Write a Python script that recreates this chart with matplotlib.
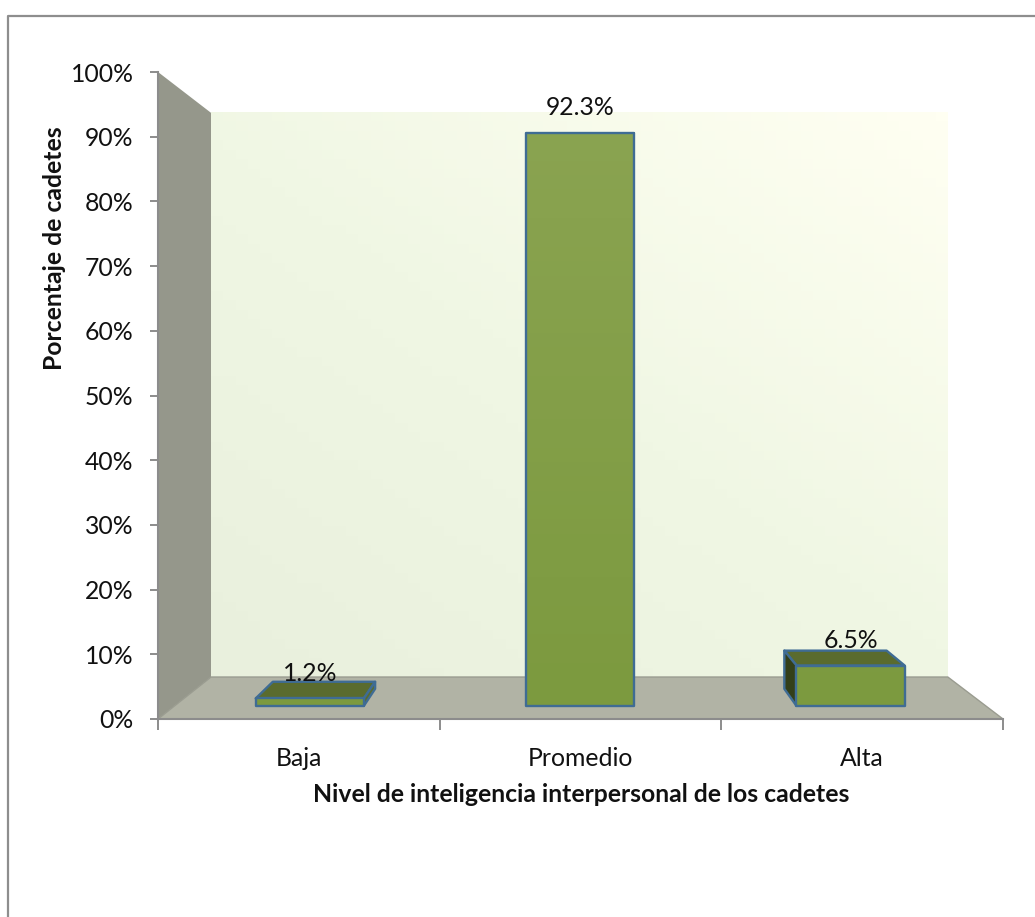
import numpy as np
import matplotlib
matplotlib.use("Agg")
import matplotlib.pyplot as plt
from matplotlib.colors import LinearSegmentedColormap
from matplotlib.patches import Polygon

plt.rcParams["font.family"] = ["Lato", "DejaVu Sans"]

categories = ["Baja", "Promedio", "Alta"]
values = [1.2, 92.3, 6.5]
value_labels = ["1.2%", "92.3%", "6.5%"]
y_ticks = [0, 10, 20, 30, 40, 50, 60, 70, 80, 90, 100]
xlabel = "Nivel de inteligencia interpersonal de los cadetes"
ylabel = "Porcentaje de cadetes"

W, H = 1035, 917
GRAY = "#8c8c8c"
EDGE = "#3f6c94"
TOP = "#5a6b2e"
DARK = "#333f19"
WALL = "#95978b"
FLOOR = "#b1b3a5"
INK = "#111111"
FS = 17.8

# perspective of the old 3D column chart: everything shrinks towards (VX, VY)
VX, VY = 1.47, 50.7
WALL_D = 0.128
BAR_FRONT = 0.04
BAR_BACK = 0.092
BAR_W = 0.4


def proj(x, y, d):
    return x + (VX - x) * d, y + (VY - y) * d


def face(ax, pts, **kw):
    ax.add_patch(Polygon([proj(*p) for p in pts], closed=True, clip_on=False, **kw))


fig = plt.figure(figsize=(W / 100, H / 100), dpi=100)
ax = fig.add_axes([158 / W, 1 - 719 / H, 845 / W, 647 / H])
ax.set_xlim(0, 3)
ax.set_ylim(0, 100)

# outer frame, only top and left are inside the crop
fig.add_artist(plt.Line2D([7.5 / W, 7.5 / W, 1], [0, 1 - 16 / H, 1 - 16 / H],
                          color="#8e8e8e", lw=1.6))

# back wall
wx0, wy0 = proj(0, 0, WALL_D)
wx1, wy1 = proj(3, 100, WALL_D)
wall_cmap = LinearSegmentedColormap.from_list("wall", ["#e9f0dd", "#f0f7e4", "#fffff2"])
gx, gy = np.meshgrid(np.linspace(0, 1, 60), np.linspace(0, 1, 60))
ax.imshow((gx * 0.9 + gy) / 1.9, extent=(wx0, wx1, wy0, wy1), origin="lower",
          cmap=wall_cmap, aspect="auto", zorder=1)

# side wall and floor
face(ax, [(0, 0, 0), (0, 100, 0), (0, 100, WALL_D), (0, 0, WALL_D)],
     fc=WALL, ec="none", zorder=2)
face(ax, [(0, 0, 0), (3, 0, 0), (3, 0, WALL_D), (0, 0, WALL_D)],
     fc=FLOOR, ec="#9a9c90", lw=1, zorder=2)

# bars
bar_cmap = LinearSegmentedColormap.from_list("bar", ["#7c9a3f", "#8ba452"])
for i, (val, lab) in enumerate(zip(values, value_labels)):
    x0 = i + 0.5 - BAR_W / 2
    x1 = i + 0.5 + BAR_W / 2
    fx0, fy0 = proj(x0, 0, BAR_FRONT)
    fx1, fy1 = proj(x1, val, BAR_FRONT)
    if val < VY:
        face(ax, [(x0, val, BAR_FRONT), (x1, val, BAR_FRONT), (x1, val, BAR_BACK), (x0, val, BAR_BACK)],
             fc=TOP, ec=EDGE, lw=1.7, zorder=3, joinstyle="round")
    if x1 < VX:
        face(ax, [(x1, 0, BAR_FRONT), (x1, val, BAR_FRONT), (x1, val, BAR_BACK), (x1, 0, BAR_BACK)],
             fc=TOP, ec=EDGE, lw=1.7, zorder=3, joinstyle="round")
    if x0 > VX:
        face(ax, [(x0, 0, BAR_FRONT), (x0, val, BAR_FRONT), (x0, val, BAR_BACK), (x0, 0, BAR_BACK)],
             fc=DARK, ec=EDGE, lw=1.7, zorder=3, joinstyle="round")
    ax.imshow(np.linspace(0, val / 100, 40).reshape(-1, 1), extent=(fx0, fx1, fy0, fy1),
              origin="lower", cmap=bar_cmap, vmin=0, vmax=1, aspect="auto", zorder=4)
    face(ax, [(x0, 0, BAR_FRONT), (x1, 0, BAR_FRONT), (x1, val, BAR_FRONT), (x0, val, BAR_FRONT)],
         fc="none", ec=EDGE, lw=1.7, zorder=5, joinstyle="round")
    # baseline sits a fixed distance above the front top edge
    lx, ly = proj(i + 0.5, val, BAR_FRONT)
    ax.annotate(lab, (lx, ly), xytext=(0, 12.5), textcoords="offset points",
                ha="center", va="baseline", fontsize=FS, color=INK, zorder=6,
                annotation_clip=False)

ax.set_xlim(0, 3)
ax.set_ylim(0, 100)
ax.patch.set_visible(False)
for s in ["top", "right"]:
    ax.spines[s].set_visible(False)
for s in ["left", "bottom"]:
    ax.spines[s].set_color(GRAY)
    ax.spines[s].set_linewidth(1.5)
    ax.spines[s].set_zorder(7)

ax.set_yticks(y_ticks)
ax.set_yticklabels([f"{t}%" for t in y_ticks], fontsize=FS, color=INK)
ax.tick_params(axis="y", length=5.5, width=1.4, color=GRAY, pad=12)
ax.set_xticks([0, 1, 2, 3])
ax.set_xticklabels([])
ax.tick_params(axis="x", which="major", length=8, width=1.4, color=GRAY)
ax.set_xticks([0.5, 1.5, 2.5], minor=True)
ax.set_xticklabels(categories, minor=True, fontsize=FS, color=INK)
ax.tick_params(axis="x", which="minor", length=0, pad=20)

fig.text(581 / W, 1 - 794 / H, xlabel, ha="center", va="center", fontsize=FS,
         fontweight="bold", color=INK)
fig.text(54 / W, 1 - 248 / H, ylabel, ha="center", va="center", rotation=90, fontsize=FS,
         fontweight="bold", color=INK)

fig.savefig("out.png", dpi=100)
